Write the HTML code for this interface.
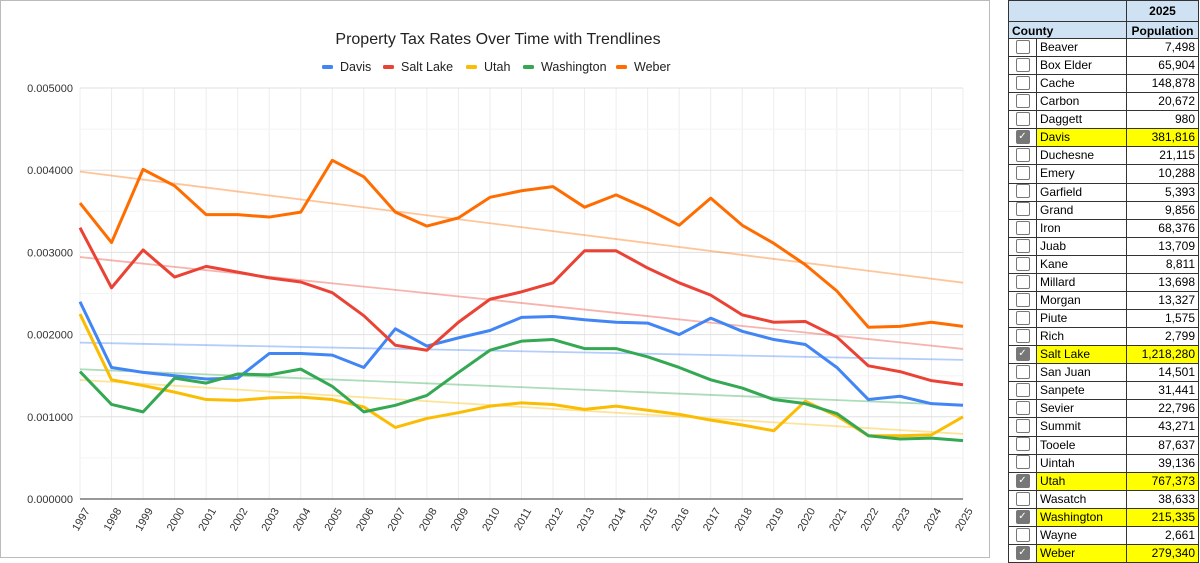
<!DOCTYPE html>
<html><head><meta charset="utf-8">
<style>
body{margin:0;width:1200px;height:562px;background:#fff;font-family:"Liberation Sans",Arial,sans-serif;overflow:hidden;position:relative}
#chart{position:absolute;left:0;top:0}
#tbl{position:absolute;left:1008px;top:0;width:191px;height:562px;font-size:12px}
.row{position:absolute;left:0;width:191px;height:18px;border-bottom:1px solid #333;box-sizing:border-box}
.c{position:absolute;top:0;height:100%;box-sizing:border-box;border-left:1px solid #333;line-height:17px;padding:0 3px;white-space:nowrap}
.c1{left:0;width:28px;text-align:center}
.c2{left:28px;width:90px}
.c3{left:118px;width:73px;text-align:right;border-right:1px solid #333}
.box{display:inline-block;width:12px;height:12px;border:1.5px solid #777;border-radius:2px;vertical-align:middle;background:#fff;margin-top:-2px}
.box.on{background:#777;color:#fff;font-size:10px;line-height:12px;text-align:center}
.hl{background:#ffff00}
.hd{background:#cfe2f3;font-weight:bold}
</style></head><body>
<svg id="chart" width="1000" height="562">
<rect x="0.5" y="0.5" width="989" height="557" fill="#fff" stroke="#bbb"/>
<text x="498" y="44" text-anchor="middle" font-size="16" fill="#222">Property Tax Rates Over Time with Trendlines</text>
<g id="legend"></g><g id="grid"></g><g id="trends"></g><g id="lines"></g><g id="axes"></g>
</svg>
<div id="tbl">
<div class="row" style="top:0;height:22px;border-top:1px solid #333"><div class="c hd" style="left:0;width:118px"></div><div class="c c3 hd" style="text-align:center;line-height:20px">2025</div></div>
<div class="row" style="top:22px;height:17px"><div class="c hd" style="left:0;width:118px;line-height:16px;padding-top:1px">County</div><div class="c c3 hd" style="text-align:center;line-height:16px;padding-top:1px">Population</div></div>
</div>
<script>
const years=[];for(let y=1997;y<=2025;y++)years.push(y);
const davis=[2.40,1.60,1.54,1.50,1.46,1.47,1.77,1.77,1.75,1.60,2.07,1.86,1.96,2.05,2.21,2.22,2.18,2.15,2.14,2.00,2.20,2.04,1.94,1.88,1.60,1.21,1.25,1.16,1.14];
const saltLake=[3.30,2.57,3.03,2.70,2.83,2.76,2.69,2.64,2.51,2.23,1.87,1.81,2.15,2.43,2.52,2.63,3.02,3.02,2.81,2.63,2.48,2.24,2.15,2.16,1.97,1.62,1.55,1.44,1.39];
const utah=[2.25,1.45,1.38,1.30,1.21,1.20,1.23,1.24,1.21,1.12,0.87,0.98,1.05,1.13,1.17,1.15,1.09,1.13,1.08,1.03,0.96,0.90,0.83,1.19,1.01,0.77,0.77,0.78,1.00];
const washington=[1.55,1.15,1.06,1.47,1.41,1.52,1.51,1.58,1.37,1.06,1.14,1.26,1.54,1.81,1.92,1.94,1.83,1.83,1.73,1.60,1.45,1.35,1.21,1.16,1.04,0.77,0.73,0.74,0.71];
const weber=[3.60,3.12,4.01,3.81,3.46,3.46,3.43,3.49,4.12,3.92,3.49,3.32,3.42,3.67,3.75,3.80,3.55,3.70,3.53,3.33,3.66,3.33,3.11,2.85,2.53,2.09,2.10,2.15,2.10];
const seriesNames=["Davis","Salt Lake","Utah","Washington","Weber"];
const seriesColors=["#4285f4","#ea4335","#fbbc04","#34a853","#ff6d01"];
const yTicks=[0,1,2,3,4,5];
const counties=["Beaver","Box Elder","Cache","Carbon","Daggett","Davis","Duchesne","Emery","Garfield","Grand","Iron","Juab","Kane","Millard","Morgan","Piute","Rich","Salt Lake","San Juan","Sanpete","Sevier","Summit","Tooele","Uintah","Utah","Wasatch","Washington","Wayne","Weber"];
const pops=["7,498","65,904","148,878","20,672","980","381,816","21,115","10,288","5,393","9,856","68,376","13,709","8,811","13,698","13,327","1,575","2,799","1,218,280","14,501","31,441","22,796","43,271","87,637","39,136","767,373","38,633","215,335","2,661","279,340"];
const checked=["Davis","Salt Lake","Utah","Washington","Weber"];
const allSeries=[davis,saltLake,utah,washington,weber];
const NS="http://www.w3.org/2000/svg";
const X0=80,X1=963,Y0=499,Y1=88;
const xs=i=>X0+(X1-X0)*i/(years.length-1);
const ys=v=>Y0-(Y0-Y1)*v/5;
function mk(p,t,a){const e=document.createElementNS(NS,t);for(const k in a)e.setAttribute(k,a[k]);p.appendChild(e);return e;}
const grid=document.getElementById('grid'),axes=document.getElementById('axes');
years.forEach((y,i)=>{
 const l=mk(grid,'line',{x1:xs(i),x2:xs(i),y1:Y1,y2:Y0,stroke:'#ececec'});
 
 
 const t=mk(axes,'text',{x:xs(i)+4,y:Y0+8,'font-size':11,fill:'#333','text-anchor':'end',transform:`rotate(-60 ${xs(i)+4} ${Y0+8})`,'dominant-baseline':'hanging'});
 t.textContent=y;
 
 
});
for(let v=0;v<=5;v+=0.5){
 const l=mk(grid,'line',{x1:X0,x2:X1,y1:ys(v),y2:ys(v),stroke:v%1?'#f4f4f4':'#e0e0e0'});
 
 
}
yTicks.forEach(v=>{
 const t=mk(axes,'text',{x:73,y:ys(v)+4,'font-size':11,fill:'#333','text-anchor':'end'});
 t.textContent=(v/1000).toFixed(6);
 
 
});
const ax=mk(axes,'line',{x1:X0,x2:X1,y1:Y0,y2:Y0,stroke:'#777','stroke-width':1.5});


const trends=document.getElementById('trends'),lines=document.getElementById('lines');
allSeries.forEach((s,k)=>{
 const n=s.length;let sx=0,sy=0,sxx=0,sxy=0;
 s.forEach((v,i)=>{sx+=i;sy+=v;sxx+=i*i;sxy+=i*v;});
 const b=(n*sxy-sx*sy)/(n*sxx-sx*sx),a=(sy-b*sx)/n;
 const tl=mk(trends,'line',{x1:xs(0),y1:ys(a),x2:xs(n-1),y2:ys(a+b*(n-1)),stroke:seriesColors[k],'stroke-opacity':0.4,'stroke-width':1.8});
 
 
 const pl=mk(lines,'polyline',{points:s.map((v,i)=>xs(i)+','+ys(v)).join(' '),fill:'none',stroke:seriesColors[k],'stroke-width':3,'stroke-linejoin':'round'});
 
 
});
const lg=document.getElementById('legend');const lx=[322,383,466,523,616];
seriesNames.forEach((nm,k)=>{
 const r=mk(lg,'rect',{x:lx[k],y:65,width:11,height:4,rx:1.5,fill:seriesColors[k]});
 
 
 const t=mk(lg,'text',{x:lx[k]+18,y:71,'font-size':12.5,fill:'#222'});t.textContent=nm;
 
 
});
const tb=document.getElementById('tbl');
counties.forEach((c,i)=>{
 const on=checked.includes(c);
 const r=document.createElement('div');
 r.className='row';
 r.style.top=(39+i*18.07)+'px';
 r.style.height='18.07px';
 
 
 r.innerHTML=`<div class="c c1"><span class="box${on?' on':''}">${on?'✓':''}</span></div><div class="c c2${on?' hl':''}">${c}</div><div class="c c3${on?' hl':''}">${pops[i]}</div>`;
 const bx=r.querySelector('.box');
 
 
 tb.appendChild(r);
});
</script>
</body></html>
